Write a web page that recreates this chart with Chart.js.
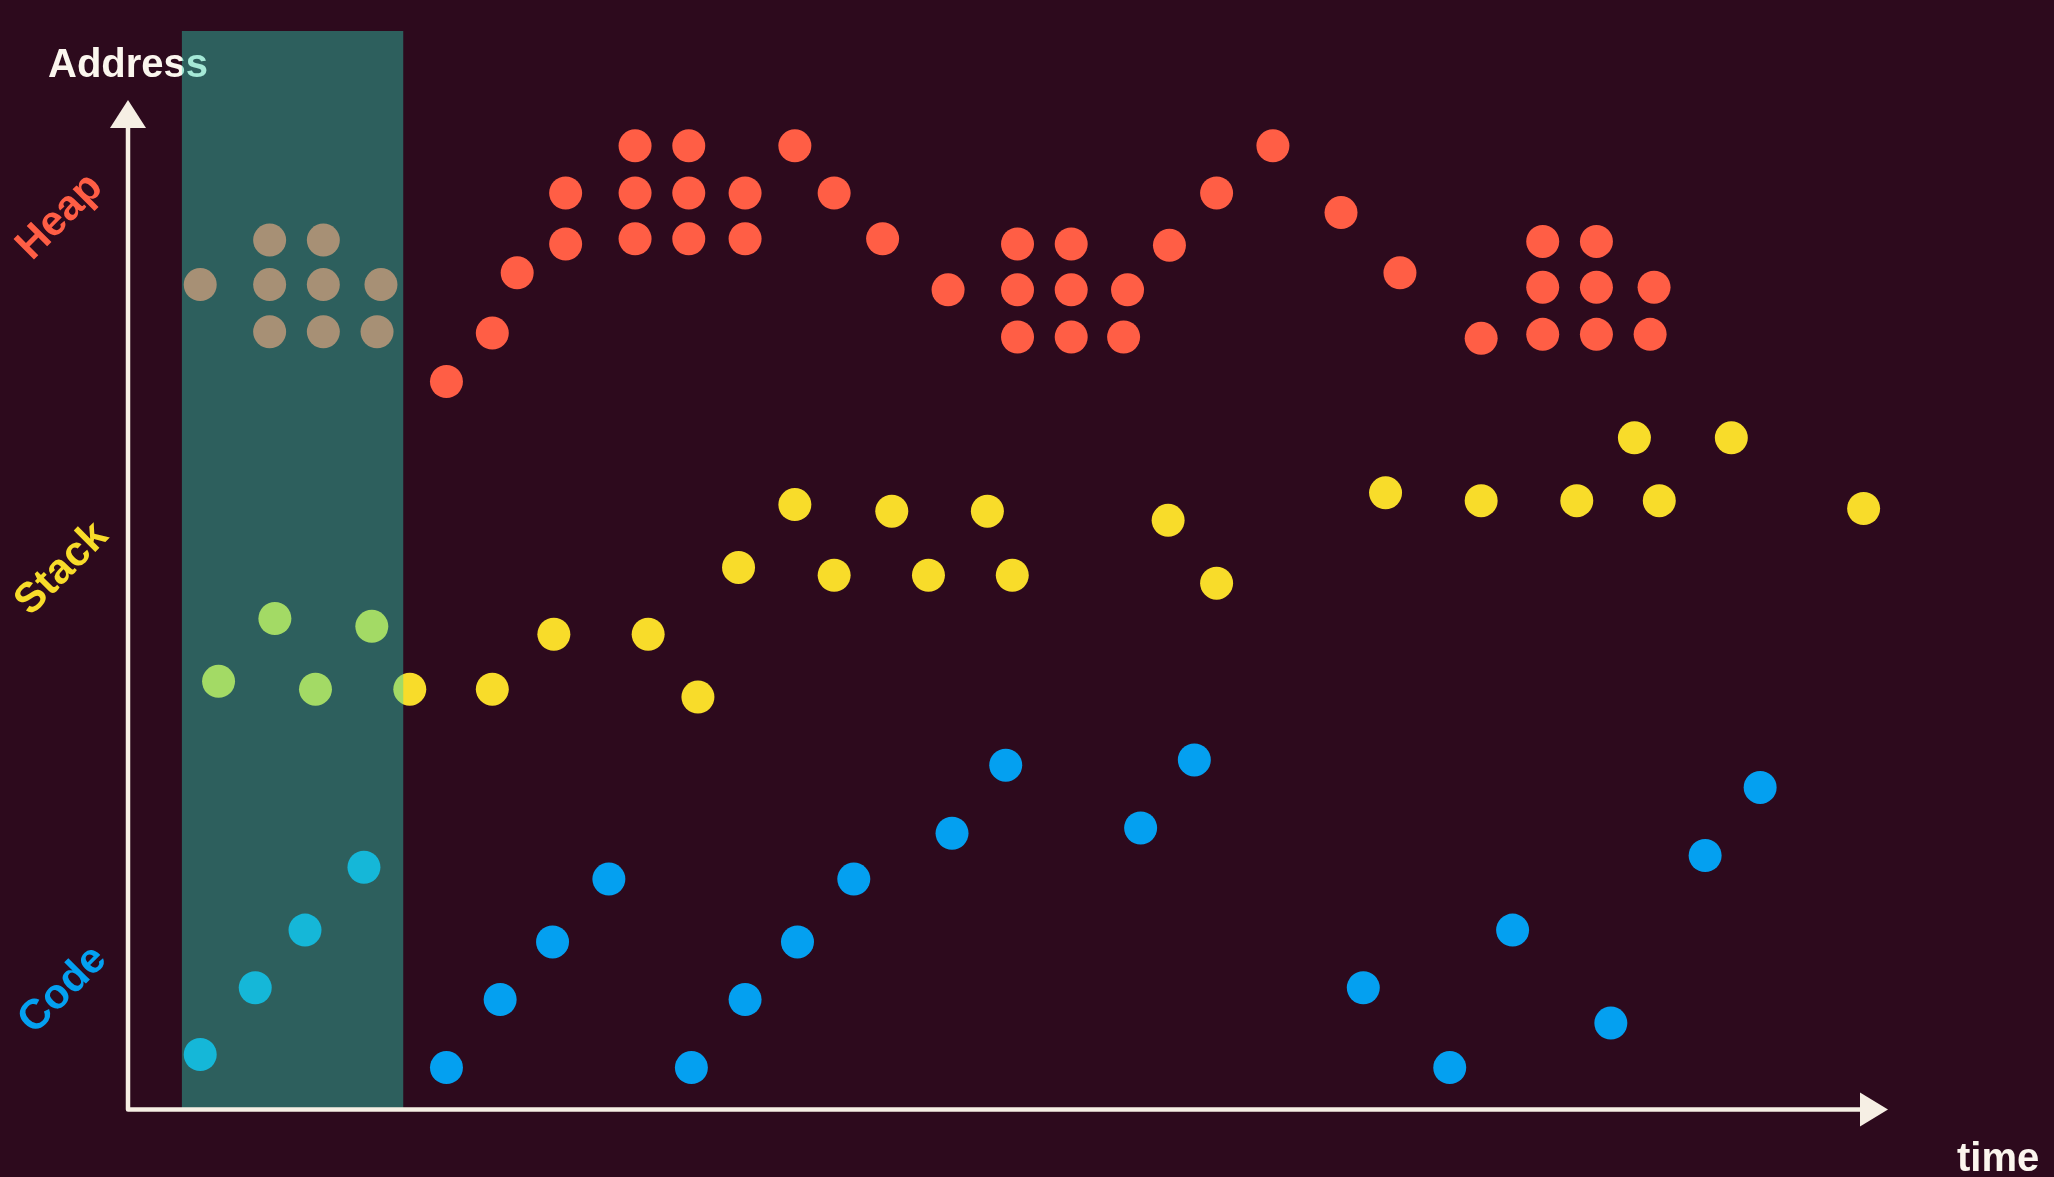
<!DOCTYPE html>
<html>
<head>
<meta charset="utf-8">
<script src="https://cdn.jsdelivr.net/npm/chart.js@4.4.0/dist/chart.umd.min.js"></script>
<style>
  html, body { margin: 0; padding: 0; background: #2d0a1d; }
  #wrap { width: 2054px; height: 1177px; position: relative; }
  canvas { display: block; }
</style>
</head>
<body>
<div id="wrap"><canvas id="c" width="2054" height="1177"></canvas></div>
<script>
// ---- Data (time, address) ----
const heapPoints = [
  [5.4,63.0],[10.7,66.4],[14.8,66.4],[10.7,63.0],[14.8,63.0],[19.2,63.0],[10.7,59.4],[14.8,59.4],[18.9,59.4],
  [24.2,55.6],[27.7,59.3],[29.6,63.9],[33.3,70.0],[33.3,66.1],[38.6,73.6],[38.6,70.0],[38.6,66.5],
  [42.7,73.6],[42.7,70.0],[42.7,66.5],[47.0,70.0],[47.0,66.5],[50.8,73.6],[53.8,70.0],[57.5,66.5],
  [62.5,62.6],[67.8,66.1],[67.8,62.6],[67.8,59.0],[71.9,66.1],[71.9,62.6],[71.9,59.0],[76.2,62.6],
  [75.9,59.0],[79.4,66.0],[83.0,70.0],[87.3,73.6],[92.5,68.5],[97.0,63.9],[103.2,58.9],
  [107.9,66.3],[107.9,62.8],[107.9,59.2],[112.0,66.3],[112.0,62.8],[112.0,59.2],[116.4,62.8],[116.1,59.2]
];
const stackPoints = [
  [6.8,32.7],[11.1,37.5],[14.2,32.1],[18.5,36.9],[21.4,32.1],[27.7,32.1],[32.4,36.3],[39.6,36.3],
  [43.4,31.5],[46.5,41.4],[50.8,46.2],[53.8,40.8],[58.2,45.7],[61.0,40.8],[65.5,45.7],[67.4,40.8],
  [79.3,45.0],[83.0,40.2],[95.9,47.1],[103.2,46.5],[110.5,46.5],[114.9,51.3],[116.8,46.5],
  [122.3,51.3],[132.4,45.9]
];
const codePoints = [
  [5.4,4.2],[9.6,9.3],[13.4,13.7],[17.9,18.5],[24.2,3.2],[28.3,8.4],[32.3,12.8],[36.6,17.6],
  [42.9,3.2],[47.0,8.4],[51.0,12.8],[55.3,17.6],[62.8,21.1],[66.9,26.3],[77.2,21.5],[81.3,26.7],
  [94.2,9.3],[100.8,3.2],[105.6,13.7],[113.1,6.6],[120.3,19.4],[124.5,24.6]
];
const regionLabels = ["Heap", "Stack", "Code"];
const highlightRange = [4.0, 20.9];
const axisTitles = { y: "Address", x: "time" };

const colors = { Heap: "#ff5e45", Stack: "#f8dc2a", Code: "#04a0f0" };
const toXY = a => a.map(p => ({ x: p[0], y: p[1] }));

const AXIS_X = 128;

const decor = {
  id: 'decor',
  afterDraw(chart) {
    const ctx = chart.ctx;
    const xs = chart.scales.x, ys = chart.scales.y;
    const ax0 = AXIS_X;
    const ay0 = ys.getPixelForValue(0);
    ctx.save();
    // titles
    ctx.fillStyle = "#fbf6ee";
    ctx.font = "bold 40px 'Liberation Sans', Arial, sans-serif";
    ctx.textBaseline = "alphabetic";
    ctx.textAlign = "left";
    ctx.fillText(axisTitles.y, 48, 77);
    ctx.fillText(axisTitles.x, 1957, 1171);
    // rotated region labels
    const centers = { Heap: [60, 217], Stack: [62, 569], Code: [63, 990] };
    ctx.font = "bold 42px 'Liberation Sans', Arial, sans-serif";
    ctx.textAlign = "center";
    ctx.textBaseline = "middle";
    regionLabels.forEach(l => {
      ctx.save();
      ctx.translate(centers[l][0], centers[l][1]);
      ctx.rotate(-Math.PI / 4);
      ctx.fillStyle = colors[l];
      ctx.fillText(l, 0, 0);
      ctx.restore();
    });
    // highlight band
    const hx0 = xs.getPixelForValue(highlightRange[0]);
    const hx1 = xs.getPixelForValue(highlightRange[1]);
    ctx.fillStyle = "rgba(46,214,184,0.42)";
    ctx.fillRect(hx0, 31, hx1 - hx0, ay0 - 31);
    // axes
    ctx.strokeStyle = "#f6efe4";
    ctx.fillStyle = "#f6efe4";
    ctx.lineWidth = 4.5;
    ctx.lineCap = "round";
    ctx.beginPath();
    ctx.moveTo(ax0, ay0);
    ctx.lineTo(ax0, 125);
    ctx.moveTo(ax0, ay0);
    ctx.lineTo(1862, ay0);
    ctx.stroke();
    ctx.beginPath();
    ctx.moveTo(ax0, 100);
    ctx.lineTo(ax0 - 18, 128);
    ctx.lineTo(ax0 + 18, 128);
    ctx.closePath();
    ctx.fill();
    ctx.beginPath();
    ctx.moveTo(1888, ay0);
    ctx.lineTo(1860, ay0 - 17);
    ctx.lineTo(1860, ay0 + 17);
    ctx.closePath();
    ctx.fill();
    ctx.restore();
  }
};

const bgPlugin = {
  id: 'bg',
  beforeDraw(chart) {
    const ctx = chart.ctx;
    ctx.save();
    ctx.fillStyle = "#2d0a1d";
    ctx.fillRect(0, 0, chart.width, chart.height);
    ctx.restore();
  }
};

new Chart(document.getElementById('c'), {
  type: 'scatter',
  data: {
    datasets: [
      { label: regionLabels[0], data: toXY(heapPoints), backgroundColor: colors.Heap },
      { label: regionLabels[1], data: toXY(stackPoints), backgroundColor: colors.Stack },
      { label: regionLabels[2], data: toXY(codePoints), backgroundColor: colors.Code }
    ].map(d => Object.assign(d, { pointRadius: 16.5, pointHoverRadius: 16.5, borderWidth: 0, clip: false }))
  },
  options: {
    responsive: false,
    animation: false,
    events: [],
    layout: { padding: { left: 129.5, right: 2054 - 1888.5, top: 100, bottom: 67.5 } },
    plugins: { legend: { display: false }, tooltip: { enabled: false } },
    scales: {
      x: { type: 'linear', min: 0, max: 134.3, display: false },
      y: { type: 'linear', min: 0, max: 77.1, display: false }
    }
  },
  plugins: [bgPlugin, decor]
});
</script>
</body>
</html>
